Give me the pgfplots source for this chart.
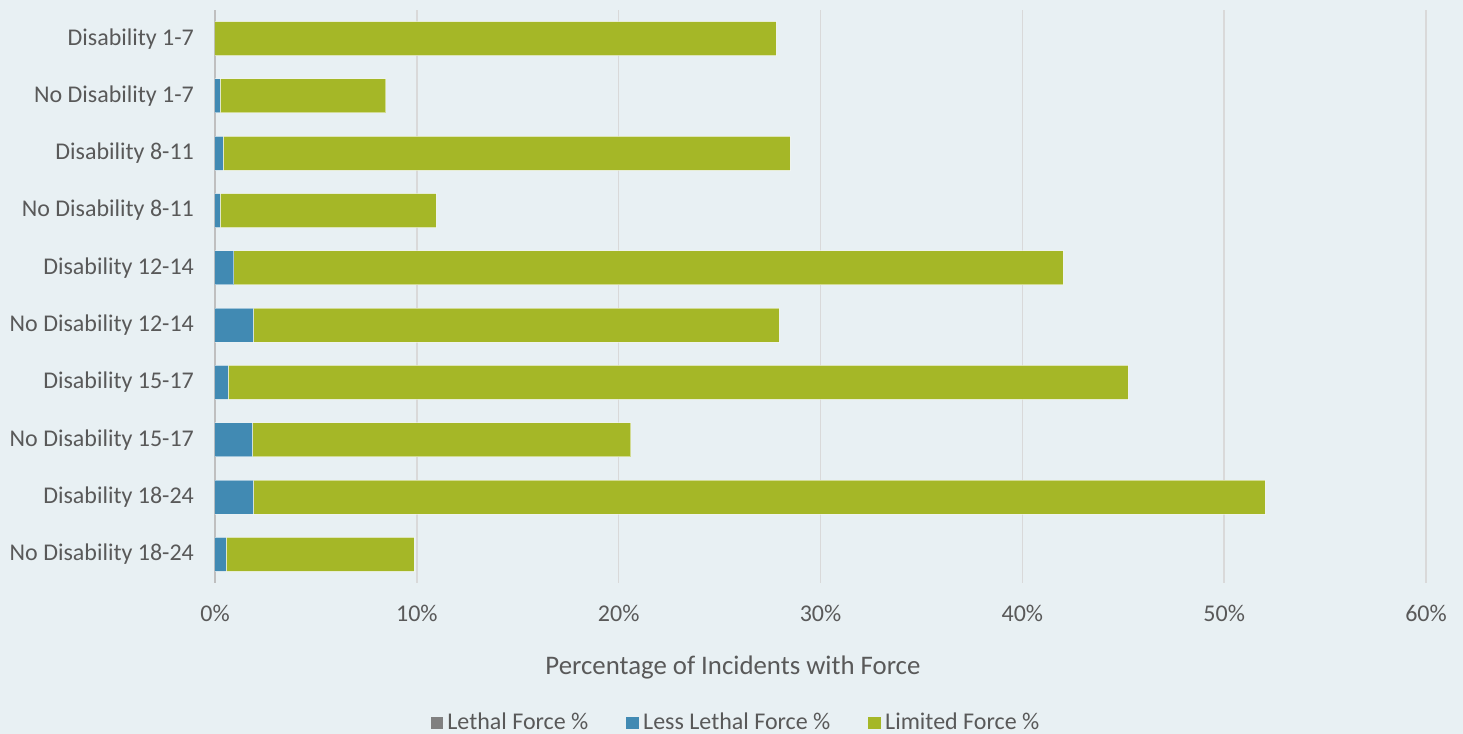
\documentclass[border=0pt]{standalone}
\usepackage{fontspec}
\setmainfont{Carlito}
\usepackage{pgfplots}
\pgfplotsset{compat=1.18}
\usepackage{pgfplotstable}
\definecolor{bg}{HTML}{E8F0F3}
\definecolor{cgreen}{HTML}{A5B727}
\definecolor{cblue}{HTML}{418AB3}
\definecolor{cgray}{HTML}{808080}
\definecolor{txt}{HTML}{595959}
\definecolor{gridc}{HTML}{D9D9D9}
\pgfplotstableread{
pos lethal less limited
0 0 0 27.8
1 0 0.25 8.22
2 0 0.4 28.1
3 0 0.25 10.7
4 0 0.94 41.08
5 0 1.9 26.05
6 0 0.65 44.59
7 0 1.85 18.76
8 0 1.9 50.13
9 0 0.55 9.31
}\data
\begin{document}
\begin{tikzpicture}
\fill[bg] (-107.5pt,-75.5pt) rectangle (624pt,291.5pt);
\begin{axis}[
  scale only axis,
  width=605.5pt, height=286.5pt,
  xbar stacked,
  bar width=17pt,
  xmin=0, xmax=60,
  ymin=-0.5, ymax=9.5,
  y dir=reverse,
  xtick={0,10,...,60},
  xticklabel={\pgfmathprintnumber{\tick}\%},
  ytick={0,...,9},
  yticklabels={Disability 1-7,No Disability 1-7,Disability 8-11,No Disability 8-11,Disability 12-14,No Disability 12-14,Disability 15-17,No Disability 15-17,Disability 18-24,No Disability 18-24},
  /pgf/number format/assume math mode=true,
  tick label style={font=\fontsize{12pt}{14pt}\selectfont, text=txt},
  xticklabel style={yshift=-7.5pt},
  yticklabel style={xshift=-7pt},
  major tick length=0pt,
  axis line style={draw=none},
  xmajorgrids, ymajorgrids=false,
  grid style={draw=gridc, line width=0.75pt},
  extra x ticks={0},
  extra x tick style={grid style={draw=black!25, line width=1pt}, xticklabel={}},
  xlabel={Percentage of Incidents with Force},
  xlabel style={at={(axis description cs:0.4277,-0.1466)}, anchor=center,
    font=\fontsize{13.4pt}{15pt}\selectfont, text=txt},
  legend style={at={(0.4310,-0.2443)}, anchor=center, draw=none, fill=none,
    legend columns=-1, font=\fontsize{12pt}{14pt}\selectfont, text=txt,
    /tikz/every even column/.append style={column sep=17pt}},
  legend image code/.code={\fill[#1, draw=none] (0pt,-3.2pt) rectangle (6.4pt,3.2pt);},
  legend cell align=left,
]
\addplot[fill=cgray, draw=none] table[x=lethal, y=pos] {\data};
\addplot[fill=cblue, draw=white, draw opacity=0.5, line width=0.5pt] table[x=less, y=pos] {\data};
\addplot[fill=cgreen, draw=white, draw opacity=0.5, line width=0.5pt] table[x=limited, y=pos] {\data};
\legend{Lethal Force \%, Less Lethal Force \%, Limited Force \%}
\end{axis}
\pgfresetboundingbox
\path[use as bounding box] (-107.5pt,-75.5pt) rectangle (624pt,291.5pt);
\end{tikzpicture}
\end{document}
